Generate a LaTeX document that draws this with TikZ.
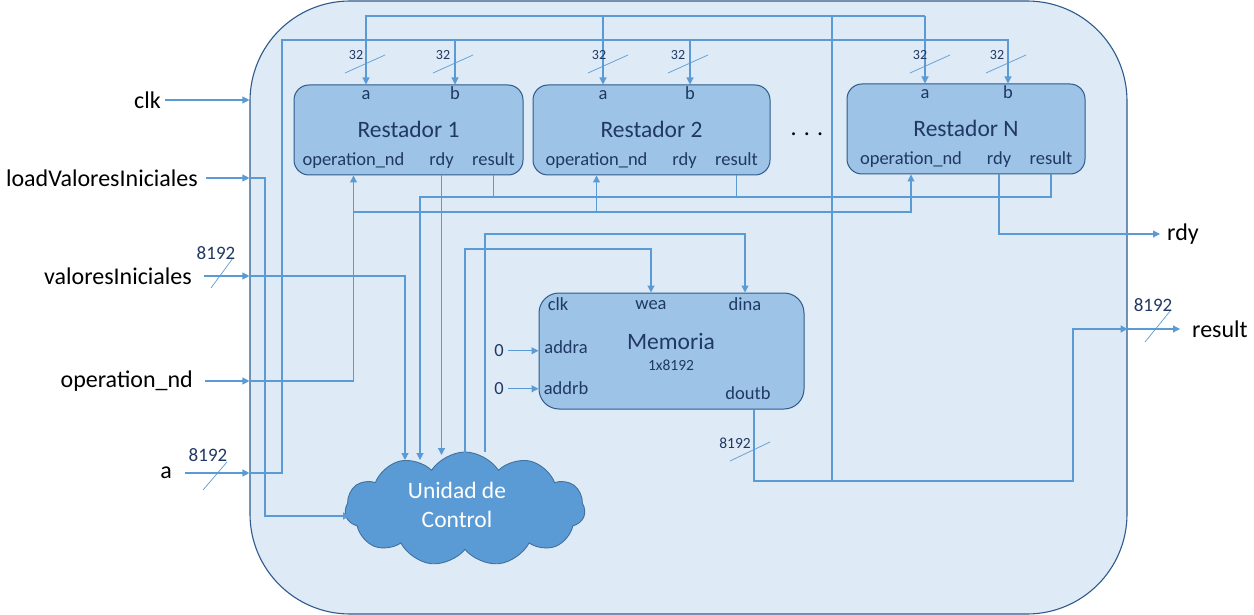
\documentclass[tikz,border=0pt]{standalone}
\usepackage{fontspec}
\setmainfont{Carlito}
\usetikzlibrary{shapes.symbols,arrows.meta}

\definecolor{wireblue}{HTML}{5B9BD5}
\definecolor{boxblue}{HTML}{9DC3E6}
\definecolor{boxedge}{HTML}{2F5A8C}
\definecolor{sysblue}{HTML}{DEEAF6}
\definecolor{navy}{HTML}{203864}
\definecolor{cloudedge}{HTML}{41719C}

\newcommand{\fsz}[1]{\fontsize{#1}{#1}\selectfont}

\begin{document}
\begin{tikzpicture}[x=1pt, y=-1pt, >={Triangle[length=7pt,width=7pt]},
    wire/.style={draw=wireblue, line width=1.1pt},
    slash/.style={draw=wireblue, line width=0.7pt},
    rbox/.style={draw=boxedge, fill=boxblue, line width=1pt, rounded corners=15pt, minimum height=90pt, inner sep=0pt},
    port/.style={text=navy, font=\fsz{18.5}, anchor=base, inner sep=0pt},
    rtitle/.style={text=navy, font=\fsz{23.5}, anchor=base, inner sep=0pt},
    num/.style={text=navy, font=\fsz{14}, anchor=base, inner sep=0pt},
    bignum/.style={text=navy, font=\fsz{19}, anchor=base, inner sep=0pt},
    sig/.style={text=black, font=\fsz{24}, inner sep=0pt}]

\useasboundingbox (0,0) rectangle (1254,615);

% sistema
\node[draw=boxedge, fill=sysblue, line width=1.1pt, rounded corners=100pt, minimum width=877pt, minimum height=613pt, inner sep=0pt] (sys) at (688.5,307.5) {};

% restadores
\foreach \n/\cx/\w/\xa/\xb/\ty in {1/408.5/229/366/455/85, 2/651.5/237/603/690/85, N/966/238/925/1008/84}
{
    \node[rbox, minimum width=\w pt] (r\n) at (\cx,\ty+45) {};
    \node[port] (r\n-a) at (\xa,\ty+15) {a};
    \node[port] (r\n-b) at (\xb,\ty+15) {b};
    \node[rtitle] (r\n-t) at (\cx,\ty+52.5) {Restador \n};
    \node[port] (r\n-op) at (\cx-55,\ty+80.5) {operation\_nd};
    \node[port] (r\n-rdy) at (\cx+33,\ty+80.5) {rdy};
    \node[port] (r\n-res) at (\cx+85,\ty+80.5) {result};
}
\node[sig, anchor=base] (dots) at (807,136) {. . .};

% memoria
\node[rbox, minimum width=265pt, minimum height=116pt, rounded corners=20pt] (mem) at (671.5,351) {};
\node[port] (m-clk) at (558,310.5) {clk};
\node[port] (m-wea) at (651,309) {wea};
\node[port] (m-dina) at (745,310) {dina};
\node[rtitle] (m-t) at (671,349) {Memoria};
\node[num, font=\fsz{15.5}] (m-size) at (671,370.5) {1x8192};
\node[port] (m-addra) at (566,353) {addra};
\node[port] (m-addrb) at (566,394) {addrb};
\node[port] (m-doutb) at (748,399) {doutb};
\node[port] (z1) at (499,356.7) {0};
\node[port] (z2) at (499,394.7) {0};

% unidad de control
\node[cloud, cloud puffs=11, cloud puff arc=115, aspect=2.1, draw=cloudedge, fill=wireblue, line width=0.9pt, minimum width=240pt, minimum height=114pt, inner sep=0pt] (uc) at (465,509) {};
\node[text=white, font=\fontsize{23.5}{29}\selectfont, align=center, inner sep=0pt] (uc-t) at (457,505) {Unidad de\\Control};

% entradas y salidas
\node[sig, anchor=east] (clk) at (161,100) {clk};
\node[sig, anchor=east] (load) at (198,178) {loadValoresIniciales};
\node[sig, anchor=east] (vals) at (192,276) {valoresIniciales};
\node[sig, anchor=east] (opnd) at (193,381) {operation\_nd};
\node[sig, anchor=east] (ain) at (172,473) {a};
\node[sig, anchor=west] (rdy) at (1167,234) {rdy};
\node[sig, anchor=west] (result) at (1192,329) {result};

% buses
\coordinate (abus) at (832,16);
\coordinate (bbus) at (282,40);
\coordinate (ldbus) at (265,0);
\coordinate (resbus) at (420,197);
\coordinate (opbus) at (352,212);
\coordinate (dinabus) at (485,234);
\coordinate (weabus) at (465,249);
\coordinate (doutbus) at (754,481);
\coordinate (outbus) at (1073,481);
\coordinate (ucw) at (350,516);
\coordinate (uc1) at (405,460);
\coordinate (uc2) at (420,460);
\coordinate (uc3) at (443,455);
\coordinate (uc4) at (465,458);
\coordinate (uc5) at (485,452);

\draw[wire,->] ([xshift=4pt]clk.east) -- (clk -| sys.west);
\draw[wire,->] ([xshift=8pt]load.east) -- (load -| sys.west);
\draw[wire,->] ([xshift=12pt]vals.east) -- (vals -| sys.west);
\draw[wire,->] ([xshift=12pt]opnd.east) -- (opnd -| sys.west);
\draw[wire,->] ([xshift=13pt]ain.east) -- (ain -| sys.west);

\draw[wire,->] (load -| sys.west) -| (ldbus |- ucw) -- (ucw);
\draw[wire,->] (vals -| sys.west) -| (uc1);
\draw[wire,->] (opnd -| sys.west) -| (r1-op |- r1.south);
\draw[wire,->] (r1-op |- opbus) -| (rN-op |- rN.south);
\draw[wire,->] (r2-op |- opbus) -- (r2-op |- r2.south);

\draw[wire,->] (ain -| sys.west) -| (bbus) -| (rN-b |- rN.north);
\foreach \n in {1,2}
    \draw[wire,->] (r\n-b |- bbus) -- (r\n-b |- r\n.north);
\draw[wire,->] (rN-a |- abus) -| (r1-a |- r1.north);
\foreach \n in {2,N}
    \draw[wire,->] (r\n-a |- abus) -- (r\n-a |- r\n.north);

\draw[wire,->] (rN-res |- rN.south) |- (resbus) -- (uc2);
\foreach \n in {1,2}
    \draw[wire] (r\n-res |- r\n.south) -- (r\n-res |- resbus);
\draw[wire,->] (r1-rdy |- r1.south) -- (r1-rdy |- uc3);
\draw[wire,->] (rN-rdy |- rN.south) |- ([xshift=-7pt]rdy.west);

\draw[wire,->] (uc4) -- (weabus) -| (m-wea |- mem.north);
\draw[wire,->] (uc5) -- (dinabus) -| (m-dina |- mem.north);
\draw[wire,->] ([xshift=4pt]z1.east) -- (z1 -| mem.west);
\draw[wire,->] ([xshift=4pt]z2.east) -- (z2 -| mem.west);

\draw[wire,->] (doutbus |- mem.south) -- (doutbus) -| (outbus |- result) -- (result -| sys.east);
\draw[wire] (abus) -- (abus |- outbus);
\draw[wire,->] (result -| sys.east) -- ([xshift=-12pt]result.west);

% anchos de bus
\foreach \sx/\lx [count=\i] in {365/356, 453/443, 608/599, 688/678, 930/920, 1006/997}
{
    \draw[slash] (\sx-20,73) -- (\sx+20,55);
    \node[num] (w\i) at (\lx,59.5) {32};
}
\draw[slash] (211,288) -- (233,258);
\node[bignum] (w-vals) at (216,259) {8192};
\draw[slash] (203,490) -- (227,462);
\node[bignum] (w-a) at (208,461) {8192};
\draw[slash] (1145,342) -- (1171,310);
\node[bignum] (w-res) at (1153,311) {8192};
\draw[slash] (730,461) -- (770,442);
\node[num, font=\fsz{15.5}] (w-dout) at (735,448) {8192};

\end{tikzpicture}
\end{document}
